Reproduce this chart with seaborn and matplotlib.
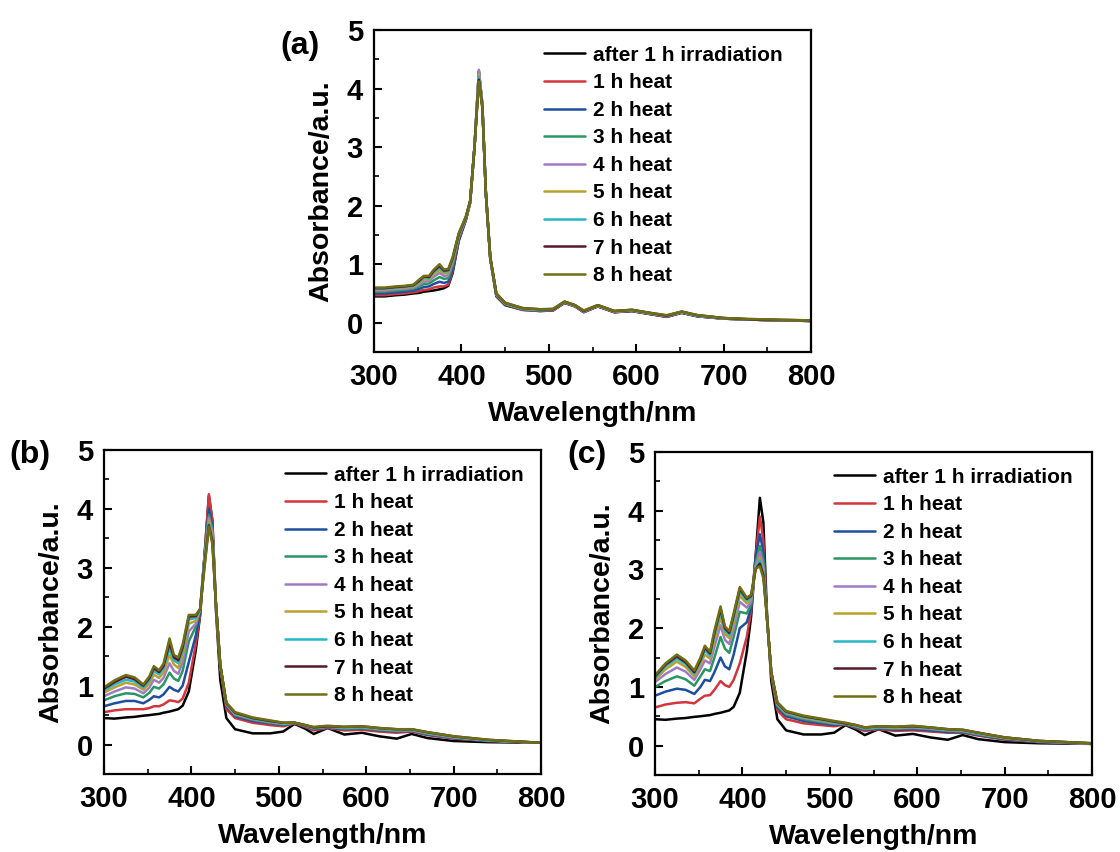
import matplotlib
matplotlib.use("Agg")
import matplotlib.pyplot as plt
import numpy as np
import pandas as pd
import seaborn as sns
from matplotlib.ticker import MultipleLocator

# ---------------- data ----------------
wavelength = [300, 312, 325, 335, 345, 352, 357, 363, 368, 375, 380, 385, 390, 397,
              405, 410, 415, 420, 424, 428, 433, 440, 450, 470, 490, 505, 518, 530,
              540, 556, 575, 595, 615, 635, 652, 670, 700, 740, 800]

series_labels = ["after 1 h irradiation", "1 h heat", "2 h heat", "3 h heat", "4 h heat",
                 "5 h heat", "6 h heat", "7 h heat", "8 h heat"]
series_colors = ["#000000", "#d2353c", "#1d4f9e", "#2a9663", "#a17ac6",
                 "#b9a22c", "#27b6c6", "#541a2c", "#6f6e14"]

# panel (a)
a_irr = [0.45, 0.45, 0.47, 0.48, 0.5, 0.51, 0.53, 0.54, 0.55, 0.57, 0.59, 0.63, 0.85, 1.4, 1.75, 2.05, 3.0, 4.25, 3.7, 2.2, 1.1, 0.45, 0.3, 0.22, 0.2, 0.21, 0.34, 0.28, 0.18, 0.28, 0.18, 0.2, 0.15, 0.1, 0.17, 0.11, 0.07, 0.05, 0.03]
a_h1 = [0.47, 0.47, 0.49, 0.5, 0.52, 0.54, 0.56, 0.57, 0.6, 0.62, 0.62, 0.65, 0.88, 1.42, 1.75, 2.05, 3.0, 4.28, 3.7, 2.2, 1.1, 0.46, 0.31, 0.22, 0.2, 0.21, 0.34, 0.28, 0.18, 0.28, 0.18, 0.2, 0.15, 0.1, 0.17, 0.11, 0.07, 0.05, 0.03]
a_h2 = [0.5, 0.5, 0.52, 0.53, 0.55, 0.58, 0.61, 0.62, 0.66, 0.7, 0.68, 0.7, 0.92, 1.44, 1.76, 2.05, 3.0, 4.3, 3.72, 2.2, 1.1, 0.47, 0.32, 0.23, 0.21, 0.22, 0.34, 0.28, 0.19, 0.28, 0.18, 0.2, 0.15, 0.11, 0.17, 0.11, 0.07, 0.05, 0.03]
a_h3 = [0.53, 0.53, 0.55, 0.56, 0.58, 0.62, 0.66, 0.67, 0.72, 0.78, 0.75, 0.76, 0.98, 1.46, 1.77, 2.06, 3.0, 4.3, 3.72, 2.2, 1.1, 0.48, 0.32, 0.23, 0.21, 0.22, 0.35, 0.29, 0.19, 0.29, 0.19, 0.21, 0.16, 0.11, 0.18, 0.12, 0.07, 0.05, 0.03]
a_h4 = [0.55, 0.55, 0.57, 0.58, 0.6, 0.65, 0.7, 0.71, 0.78, 0.85, 0.8, 0.81, 1.02, 1.48, 1.78, 2.06, 3.0, 4.32, 3.74, 2.22, 1.12, 0.48, 0.33, 0.24, 0.22, 0.22, 0.35, 0.29, 0.19, 0.29, 0.19, 0.21, 0.16, 0.11, 0.18, 0.12, 0.07, 0.05, 0.03]
a_h5 = [0.57, 0.57, 0.59, 0.6, 0.62, 0.68, 0.74, 0.74, 0.82, 0.9, 0.84, 0.85, 1.06, 1.5, 1.79, 2.07, 3.0, 4.25, 3.72, 2.22, 1.12, 0.49, 0.33, 0.24, 0.22, 0.23, 0.35, 0.29, 0.2, 0.29, 0.19, 0.21, 0.16, 0.12, 0.18, 0.12, 0.08, 0.05, 0.04]
a_h6 = [0.58, 0.58, 0.6, 0.61, 0.63, 0.7, 0.77, 0.76, 0.86, 0.94, 0.87, 0.88, 1.08, 1.51, 1.8, 2.07, 3.0, 4.2, 3.7, 2.22, 1.12, 0.49, 0.33, 0.24, 0.22, 0.23, 0.36, 0.3, 0.2, 0.3, 0.2, 0.22, 0.17, 0.12, 0.19, 0.12, 0.08, 0.05, 0.04]
a_h7 = [0.59, 0.59, 0.61, 0.62, 0.64, 0.72, 0.79, 0.78, 0.88, 0.97, 0.89, 0.9, 1.1, 1.52, 1.8, 2.08, 3.0, 4.15, 3.68, 2.22, 1.12, 0.5, 0.34, 0.25, 0.23, 0.23, 0.36, 0.3, 0.2, 0.3, 0.2, 0.22, 0.17, 0.12, 0.19, 0.13, 0.08, 0.05, 0.04]
a_h8 = [0.6, 0.6, 0.62, 0.63, 0.65, 0.74, 0.8, 0.8, 0.9, 1.0, 0.91, 0.92, 1.12, 1.53, 1.81, 2.08, 3.0, 4.12, 3.66, 2.22, 1.12, 0.5, 0.34, 0.25, 0.23, 0.24, 0.36, 0.3, 0.21, 0.3, 0.2, 0.22, 0.17, 0.13, 0.19, 0.13, 0.08, 0.06, 0.04]

# panel (b)
b_irr = [0.45, 0.44, 0.46, 0.47, 0.49, 0.5, 0.51, 0.52, 0.54, 0.56, 0.58, 0.6, 0.66, 0.9, 1.6, 2.2, 3.2, 4.22, 3.8, 2.3, 1.1, 0.45, 0.26, 0.19, 0.19, 0.22, 0.35, 0.27, 0.18, 0.28, 0.17, 0.2, 0.14, 0.1, 0.18, 0.11, 0.06, 0.04, 0.03]
b_h1 = [0.55, 0.58, 0.6, 0.6, 0.6, 0.62, 0.65, 0.65, 0.68, 0.75, 0.74, 0.72, 0.78, 1.05, 1.7, 2.2, 3.2, 4.25, 3.8, 2.4, 1.3, 0.6, 0.45, 0.37, 0.33, 0.31, 0.36, 0.3, 0.24, 0.28, 0.24, 0.25, 0.22, 0.2, 0.22, 0.16, 0.1, 0.06, 0.03]
b_h2 = [0.65, 0.7, 0.74, 0.74, 0.7, 0.76, 0.82, 0.8, 0.85, 0.98, 0.93, 0.9, 1.0, 1.4, 1.85, 2.25, 3.2, 4.0, 3.7, 2.4, 1.35, 0.65, 0.48, 0.4, 0.36, 0.33, 0.37, 0.31, 0.26, 0.29, 0.26, 0.27, 0.24, 0.22, 0.23, 0.17, 0.11, 0.06, 0.03]
b_h3 = [0.75, 0.82, 0.87, 0.86, 0.8, 0.88, 0.98, 0.95, 1.02, 1.22, 1.12, 1.08, 1.25, 1.75, 2.0, 2.3, 3.2, 3.9, 3.65, 2.4, 1.35, 0.67, 0.5, 0.42, 0.37, 0.34, 0.37, 0.32, 0.27, 0.3, 0.27, 0.28, 0.25, 0.23, 0.24, 0.18, 0.12, 0.07, 0.03]
b_h4 = [0.82, 0.9, 0.97, 0.95, 0.87, 0.97, 1.1, 1.05, 1.13, 1.38, 1.25, 1.2, 1.4, 1.92, 2.05, 2.3, 3.15, 3.85, 3.6, 2.4, 1.35, 0.68, 0.51, 0.43, 0.38, 0.35, 0.37, 0.32, 0.28, 0.3, 0.28, 0.29, 0.26, 0.24, 0.24, 0.19, 0.12, 0.07, 0.03]
b_h5 = [0.88, 0.97, 1.05, 1.02, 0.93, 1.04, 1.19, 1.13, 1.22, 1.52, 1.36, 1.3, 1.52, 2.05, 2.1, 2.3, 3.1, 3.8, 3.55, 2.4, 1.35, 0.69, 0.52, 0.44, 0.39, 0.36, 0.37, 0.33, 0.28, 0.31, 0.29, 0.3, 0.27, 0.25, 0.25, 0.2, 0.13, 0.07, 0.03]
b_h6 = [0.92, 1.02, 1.1, 1.07, 0.97, 1.09, 1.25, 1.19, 1.29, 1.63, 1.43, 1.38, 1.6, 2.12, 2.15, 2.3, 3.1, 3.75, 3.5, 2.4, 1.35, 0.7, 0.53, 0.44, 0.39, 0.36, 0.37, 0.33, 0.29, 0.31, 0.29, 0.3, 0.27, 0.25, 0.25, 0.2, 0.13, 0.07, 0.03]
b_h7 = [0.95, 1.06, 1.15, 1.11, 1.0, 1.13, 1.3, 1.23, 1.33, 1.72, 1.48, 1.43, 1.65, 2.17, 2.18, 2.3, 3.05, 3.72, 3.45, 2.4, 1.35, 0.7, 0.54, 0.45, 0.4, 0.37, 0.37, 0.33, 0.29, 0.31, 0.3, 0.31, 0.28, 0.26, 0.26, 0.21, 0.14, 0.08, 0.03]
b_h8 = [0.97, 1.09, 1.18, 1.14, 1.02, 1.16, 1.33, 1.26, 1.37, 1.8, 1.52, 1.48, 1.7, 2.2, 2.2, 2.3, 3.0, 3.7, 3.4, 2.4, 1.35, 0.71, 0.55, 0.46, 0.41, 0.37, 0.37, 0.33, 0.3, 0.32, 0.3, 0.31, 0.28, 0.26, 0.26, 0.21, 0.14, 0.08, 0.03]

# panel (c)
c_irr = [0.45, 0.44, 0.46, 0.47, 0.49, 0.5, 0.51, 0.52, 0.54, 0.56, 0.58, 0.6, 0.66, 0.9, 1.6, 2.2, 3.2, 4.22, 3.8, 2.3, 1.1, 0.45, 0.26, 0.19, 0.19, 0.22, 0.35, 0.27, 0.18, 0.28, 0.17, 0.2, 0.14, 0.1, 0.18, 0.11, 0.06, 0.04, 0.03]
c_h1 = [0.65, 0.7, 0.73, 0.74, 0.72, 0.8, 0.85, 0.86, 0.95, 1.1, 1.03, 1.0, 1.12, 1.4, 1.85, 2.3, 3.2, 3.9, 3.5, 2.2, 1.2, 0.6, 0.45, 0.38, 0.35, 0.33, 0.36, 0.3, 0.25, 0.28, 0.25, 0.26, 0.24, 0.22, 0.22, 0.17, 0.1, 0.06, 0.03]
c_h2 = [0.85, 0.92, 0.97, 0.95, 0.88, 1.0, 1.12, 1.1, 1.25, 1.5, 1.35, 1.3, 1.55, 2.0, 2.1, 2.35, 3.2, 3.6, 3.3, 2.2, 1.25, 0.65, 0.5, 0.42, 0.38, 0.35, 0.37, 0.31, 0.27, 0.29, 0.27, 0.28, 0.26, 0.23, 0.23, 0.18, 0.11, 0.06, 0.03]
c_h3 = [1.0, 1.1, 1.18, 1.13, 1.02, 1.18, 1.3, 1.27, 1.5, 1.85, 1.65, 1.58, 1.85, 2.28, 2.25, 2.4, 3.1, 3.4, 3.15, 2.2, 1.25, 0.68, 0.53, 0.45, 0.4, 0.37, 0.37, 0.32, 0.28, 0.3, 0.29, 0.3, 0.28, 0.25, 0.24, 0.19, 0.12, 0.07, 0.03]
c_h4 = [1.08, 1.22, 1.33, 1.26, 1.12, 1.3, 1.45, 1.4, 1.68, 2.05, 1.8, 1.73, 2.0, 2.45, 2.35, 2.45, 3.05, 3.3, 3.05, 2.2, 1.25, 0.7, 0.55, 0.47, 0.42, 0.38, 0.38, 0.33, 0.29, 0.31, 0.3, 0.31, 0.29, 0.26, 0.25, 0.2, 0.13, 0.07, 0.03]
c_h5 = [1.12, 1.3, 1.43, 1.34, 1.18, 1.38, 1.55, 1.48, 1.8, 2.18, 1.9, 1.83, 2.1, 2.55, 2.42, 2.5, 3.0, 3.2, 3.0, 2.2, 1.25, 0.71, 0.56, 0.48, 0.43, 0.39, 0.38, 0.34, 0.3, 0.32, 0.31, 0.32, 0.3, 0.27, 0.26, 0.21, 0.13, 0.08, 0.04]
c_h6 = [1.15, 1.35, 1.48, 1.39, 1.22, 1.43, 1.62, 1.53, 1.87, 2.27, 1.96, 1.88, 2.17, 2.62, 2.47, 2.52, 3.0, 3.15, 2.95, 2.2, 1.25, 0.72, 0.57, 0.49, 0.44, 0.4, 0.38, 0.34, 0.3, 0.32, 0.32, 0.33, 0.3, 0.27, 0.26, 0.21, 0.14, 0.08, 0.04]
c_h7 = [1.18, 1.38, 1.52, 1.42, 1.25, 1.46, 1.67, 1.57, 1.92, 2.33, 2.0, 1.92, 2.22, 2.67, 2.5, 2.55, 3.0, 3.1, 2.9, 2.2, 1.25, 0.73, 0.58, 0.5, 0.45, 0.41, 0.38, 0.35, 0.31, 0.33, 0.32, 0.33, 0.31, 0.28, 0.27, 0.22, 0.14, 0.08, 0.04]
c_h8 = [1.2, 1.4, 1.55, 1.45, 1.28, 1.5, 1.7, 1.6, 1.96, 2.37, 2.03, 1.95, 2.25, 2.7, 2.52, 2.57, 3.02, 3.05, 2.85, 2.2, 1.25, 0.74, 0.59, 0.51, 0.46, 0.42, 0.39, 0.35, 0.31, 0.33, 0.32, 0.34, 0.31, 0.28, 0.27, 0.22, 0.14, 0.08, 0.04]

panel_a = [a_irr, a_h1, a_h2, a_h3, a_h4, a_h5, a_h6, a_h7, a_h8]
panel_b = [b_irr, b_h1, b_h2, b_h3, b_h4, b_h5, b_h6, b_h7, b_h8]
panel_c = [c_irr, c_h1, c_h2, c_h3, c_h4, c_h5, c_h6, c_h7, c_h8]

x_ticks = [300, 400, 500, 600, 700, 800]
y_ticks = [0, 1, 2, 3, 4, 5]
panel_tags = ["(a)", "(b)", "(c)"]

# ---------------- style ----------------
sns.set_style("ticks")
plt.rcParams['font.family'] = ['Liberation Sans', 'DejaVu Sans']
plt.rcParams['font.weight'] = 'bold'
plt.rcParams['axes.labelweight'] = 'bold'
plt.rcParams['text.color'] = 'black'
plt.rcParams['axes.labelcolor'] = 'black'
plt.rcParams['xtick.color'] = 'black'
plt.rcParams['ytick.color'] = 'black'
plt.rcParams['axes.edgecolor'] = 'black'

W, H = 1120, 852
fig = plt.figure(figsize=(W / 100, H / 100), dpi=100)

def frac(l, t, r, b):
    return [l / W, 1 - b / H, (r - l) / W, (b - t) / H]

ax_a = fig.add_axes(frac(374, 30, 811, 352))
ax_b = fig.add_axes(frac(104, 450, 541, 774))
ax_c = fig.add_axes(frac(655, 452, 1092, 775))

palette = dict(zip(series_labels, series_colors))

def draw(ax, series, tag, tag_xy, leg_x):
    rows = []
    for lab, vals in zip(series_labels, series):
        for w, v in zip(wavelength, vals):
            rows.append((w, v, lab))
    df = pd.DataFrame(rows, columns=["Wavelength", "Absorbance", "Series"])
    sns.lineplot(data=df, x="Wavelength", y="Absorbance", hue="Series",
                 hue_order=series_labels, palette=palette, ax=ax,
                 estimator=None, sort=False, linewidth=1.8, legend=False)
    ax.set_xlim(300, 800)
    ax.set_ylim(-0.5, 5)
    ax.set_xticks(x_ticks)
    ax.set_yticks(y_ticks)
    ax.xaxis.set_minor_locator(MultipleLocator(50))
    ax.yaxis.set_minor_locator(MultipleLocator(0.5))
    ax.tick_params(which='major', direction='in', length=6, width=1.5,
                   labelsize=21, pad=8, top=False, right=False,
                   colors='black', labelcolor='black')
    ax.tick_params(which='minor', direction='in', length=3.5, width=1.2,
                   top=False, right=False, colors='black')
    for lbl in ax.get_xticklabels() + ax.get_yticklabels():
        lbl.set_fontweight('bold')
    for sp in ax.spines.values():
        sp.set_linewidth(1.6)
        sp.set_color('black')
    ax.set_xlabel("Wavelength/nm", fontsize=20.5, fontweight='bold', labelpad=7,
                  color='black')
    ax.set_ylabel("Absorbance/a.u.", fontsize=20.5, fontweight='bold', labelpad=9,
                  color='black')
    handles = ax.get_lines()[:len(series_labels)]
    leg = ax.legend(handles, series_labels, loc='upper left', bbox_to_anchor=(leg_x, 0.99),
                    frameon=False, prop={'size': 15, 'weight': 'bold'},
                    handlelength=2.0, handletextpad=0.35, labelspacing=0.41,
                    borderaxespad=0.2)
    for t in leg.get_texts():
        t.set_color('black')
    fig.text(tag_xy[0] / W, 1 - tag_xy[1] / H, tag, fontsize=23,
             fontweight='bold', ha='center', va='center', color='black')

draw(ax_a, panel_a, panel_tags[0], (300, 46), 0.36)
draw(ax_b, panel_b, panel_tags[1], (30, 455), 0.385)
draw(ax_c, panel_c, panel_tags[2], (587, 455), 0.38)

fig.savefig("out.png", dpi=100)
